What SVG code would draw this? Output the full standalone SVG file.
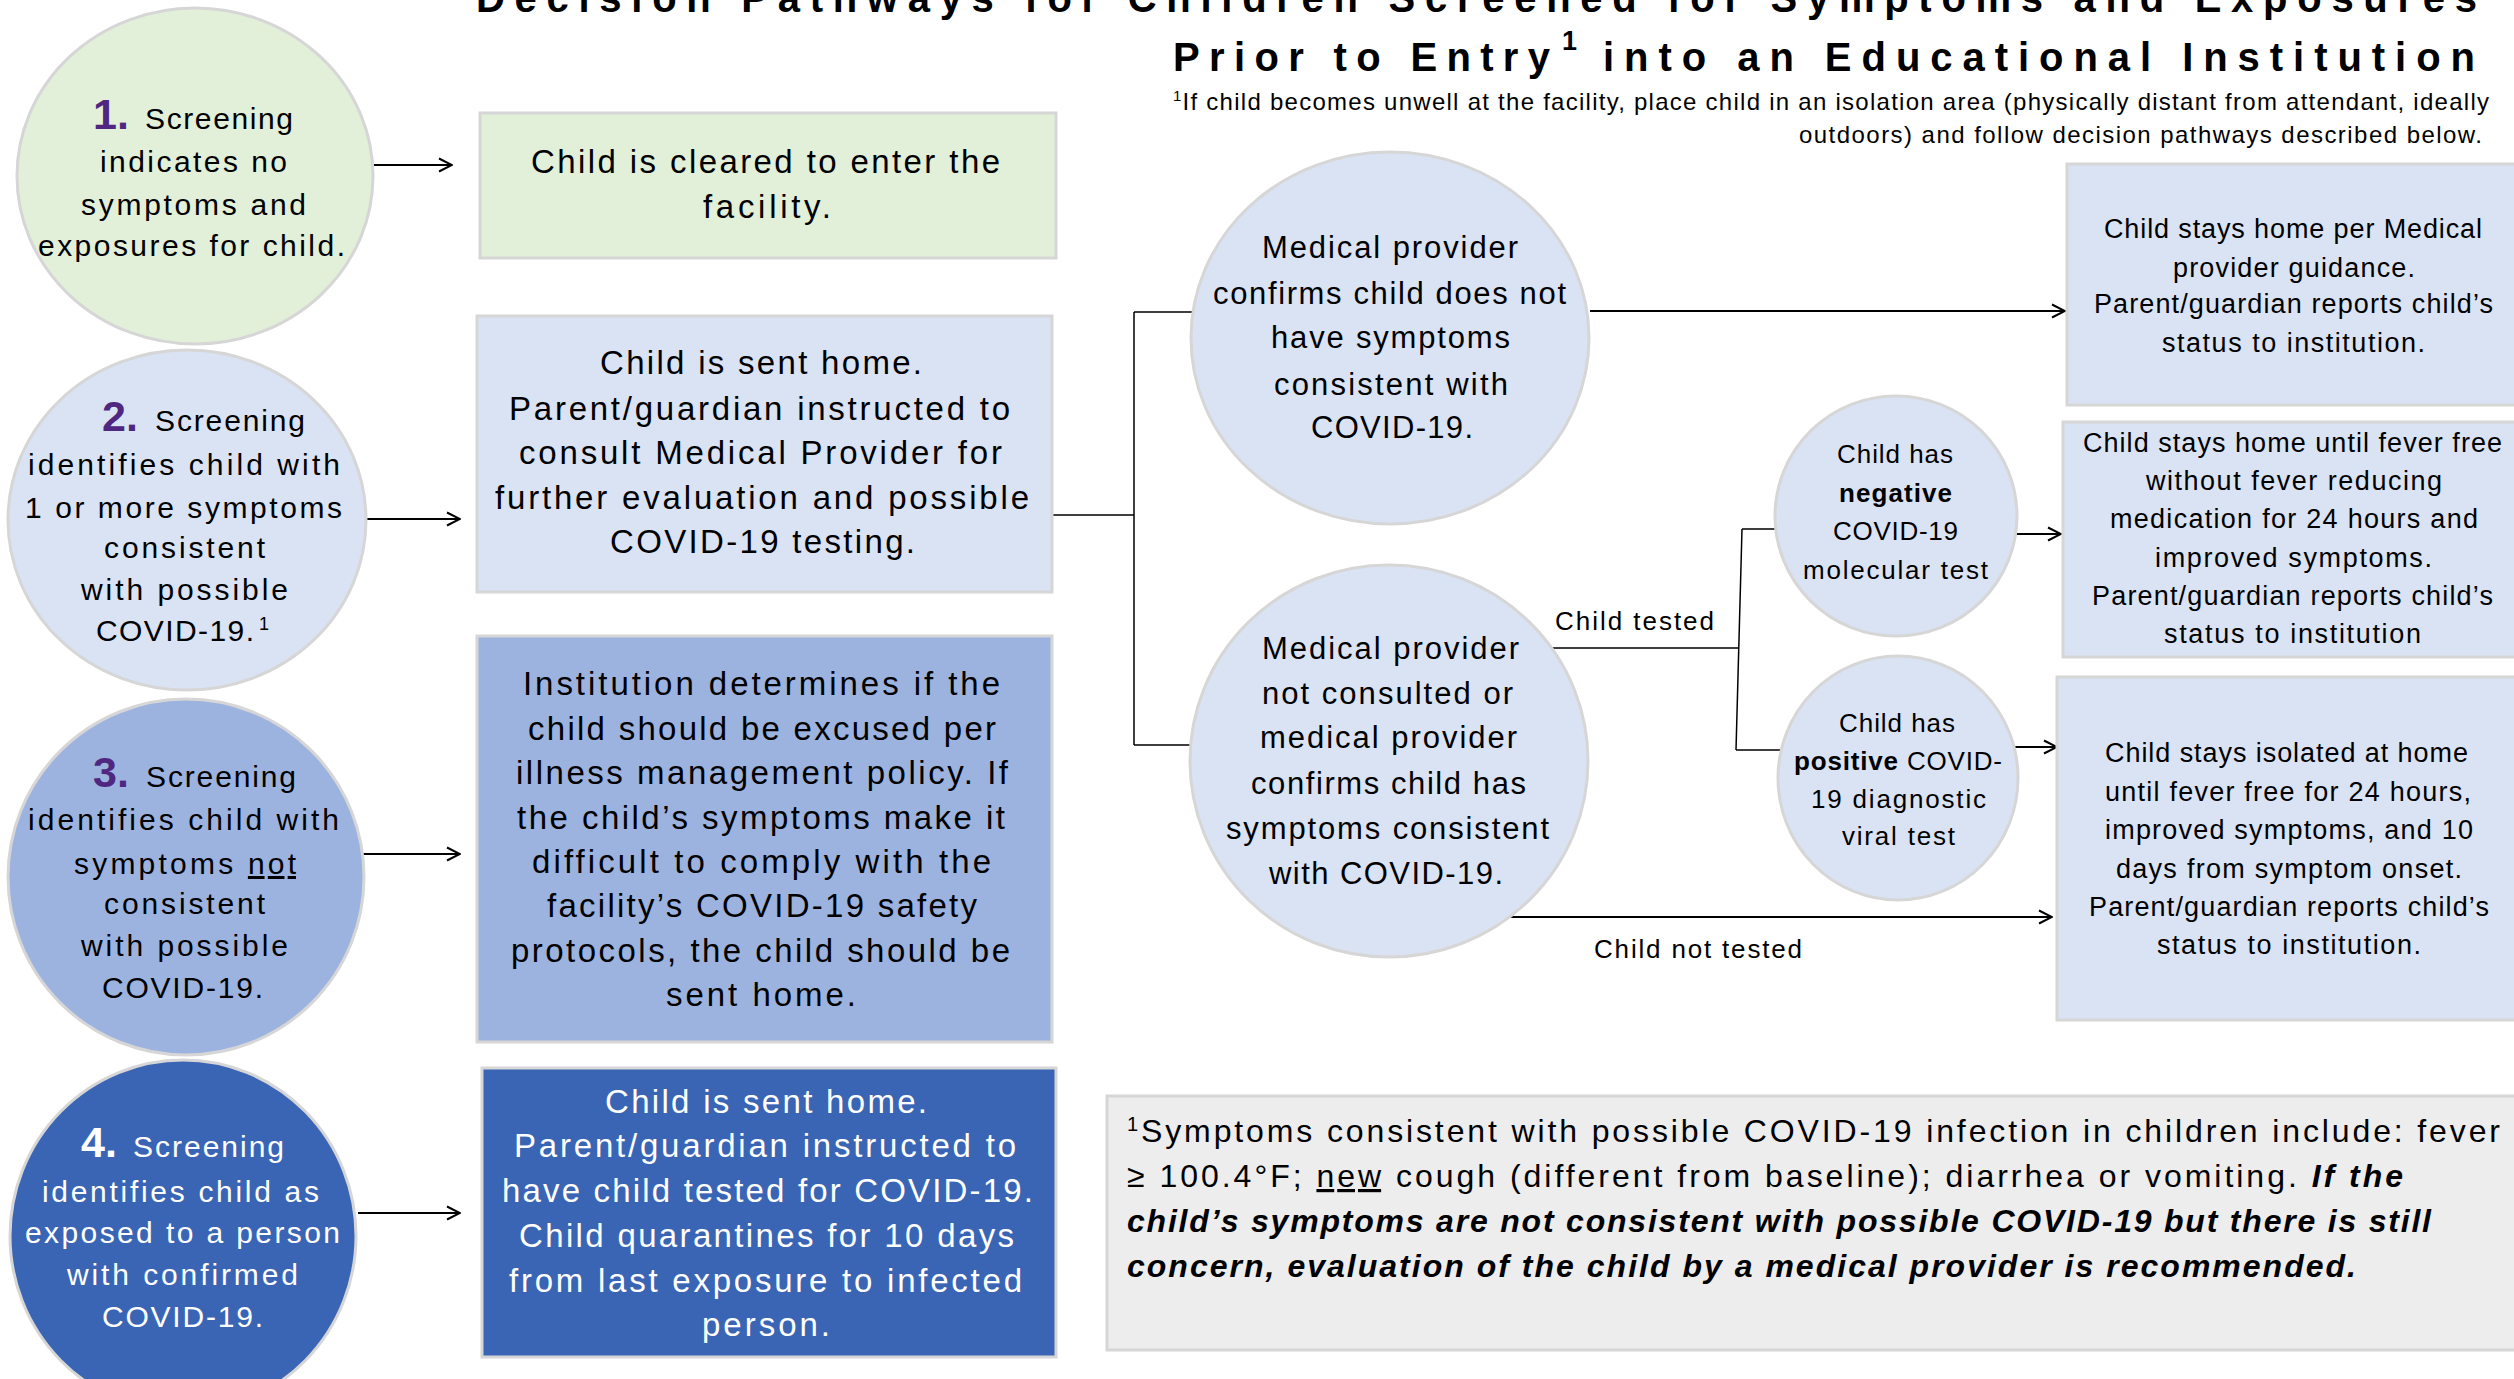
<svg xmlns="http://www.w3.org/2000/svg" width="2514" height="1379" viewBox="0 0 2514 1379">
<defs>
<style>
text{font-family:"Liberation Sans",Arial,sans-serif;fill:#000}
.lc{font-size:30px}
.num{font-size:43px;font-weight:bold;fill:#4f2780}
.bx{font-size:33px}
.mp{font-size:31px}
.sm{font-size:26px}
.rb{font-size:27px}
.fn{font-size:32px}
.ttl{font-size:40px;font-weight:bold}
.top{font-size:24px}
.wh{fill:#fff}
.b{font-weight:bold}
.bi{font-weight:bold;font-style:italic}
.u{text-decoration:underline}
.node{stroke:#d6d6d6;stroke-width:3}
.green{fill:#e2efd9}
.lblue{fill:#dae3f3}
.mblue{fill:#9db3df}
.dblue{fill:#3a65b5}
.grey{fill:#ededed}
.conn{stroke:#000;fill:none;stroke-width:1.5}
.arr{stroke:#000;fill:none;stroke-width:2;marker-end:url(#ah)}
</style>
<marker id="ah" viewBox="0 0 16 16" refX="15" refY="8" markerWidth="16" markerHeight="16" markerUnits="userSpaceOnUse" orient="auto">
<path d="M2,1.5 L15,8 L2,14.5" fill="none" stroke="#000" stroke-width="2"/>
</marker>
</defs>
<rect width="2514" height="1379" fill="#fff"/>

<g id="title">
<text class="ttl" x="476" y="12" textLength="2001">Decision Pathways for Children Screened for Symptoms and Exposures</text>
<text class="ttl" x="1173" y="71" textLength="377">Prior to Entry</text>
<text class="b" x="1562" y="50" font-size="27">1</text>
<text class="ttl" x="1603" y="71" textLength="872">into an Educational Institution</text>
<text class="top" x="1173" y="110" textLength="1316"><tspan font-size="15" dy="-9">1</tspan><tspan dy="9">If child becomes unwell at the facility, place child in an isolation area (physically distant from attendant, ideally</tspan></text>
<text class="top" x="1799" y="143" textLength="683">outdoors) and follow decision pathways described below.</text>
</g>

<g id="connectors">
<line class="arr" x1="374" y1="165" x2="452" y2="165"/>
<line class="arr" x1="361" y1="519" x2="460" y2="519"/>
<line class="arr" x1="361" y1="854" x2="460" y2="854"/>
<line class="arr" x1="358" y1="1213" x2="460" y2="1213"/>
<path class="conn" d="M1052,515 H1134 M1134,312 V745 M1134,312 H1194 M1134,745 H1192"/>
<line class="arr" x1="1590" y1="311" x2="2065" y2="311"/>
<path class="conn" d="M1552,648 H1738 M1742,529 L1736,750 M1742,529 H1776 M1736,750 H1782"/>
<line class="arr" x1="2016" y1="534" x2="2061" y2="534" stroke-width="2.5"/>
<line class="arr" x1="2014" y1="747" x2="2057" y2="747" stroke-width="2.5"/>
<line class="arr" x1="1506" y1="917" x2="2052" y2="917"/>
<text class="sm" x="1555" y="630" textLength="159">Child tested</text>
<text class="sm" x="1594" y="958" textLength="208">Child not tested</text>
</g>

<g id="screen1">
<ellipse class="node green" cx="195" cy="176" rx="178" ry="168"/>
<text class="num" x="93" y="129">1.</text>
<text class="lc" x="145" y="129" textLength="148">Screening</text>
<text class="lc" x="100" y="172" textLength="187">indicates no</text>
<text class="lc" x="81" y="215" textLength="225">symptoms and</text>
<text class="lc" x="38" y="256" textLength="307">exposures for child.</text>
</g>

<g id="screen2">
<ellipse class="node lblue" cx="187" cy="520" rx="179" ry="170"/>
<text class="num" x="102" y="431">2.</text>
<text class="lc" x="155" y="431" textLength="150">Screening</text>
<text class="lc" x="28" y="475" textLength="312">identifies child with</text>
<text class="lc" x="25" y="518" textLength="317">1 or more symptoms</text>
<text class="lc" x="104" y="558" textLength="161">consistent</text>
<text class="lc" x="81" y="600" textLength="207">with possible</text>
<text class="lc" x="96" y="641" textLength="158">COVID-19.</text>
<text x="259" y="630" font-size="18">1</text>
</g>

<g id="screen3">
<ellipse class="node mblue" cx="186" cy="877" rx="178" ry="178"/>
<text class="num" x="93" y="787">3.</text>
<text class="lc" x="146" y="787" textLength="150">Screening</text>
<text class="lc" x="28" y="830" textLength="311">identifies child with</text>
<text class="lc" x="74" y="874" textLength="222">symptoms <tspan class="u">not</tspan></text>
<text class="lc" x="104" y="914" textLength="161">consistent</text>
<text class="lc" x="81" y="956" textLength="207">with possible</text>
<text class="lc" x="102" y="998" textLength="161">COVID-19.</text>
</g>

<g id="screen4">
<ellipse class="node dblue" cx="183" cy="1236" rx="173" ry="176"/>
<text class="num wh" x="81" y="1157">4.</text>
<text class="lc wh" x="133" y="1157" textLength="151">Screening</text>
<text class="lc wh" x="42" y="1202" textLength="277">identifies child as</text>
<text class="lc wh" x="25" y="1243" textLength="315">exposed to a person</text>
<text class="lc wh" x="67" y="1285" textLength="231">with confirmed</text>
<text class="lc wh" x="102" y="1327" textLength="161">COVID-19.</text>
</g>

<g id="cleared">
<rect class="node green" x="480" y="113" width="576" height="145"/>
<text class="bx" x="531" y="173" textLength="469">Child is cleared to enter the</text>
<text class="bx" x="703" y="218" textLength="128">facility.</text>
</g>

<g id="consult">
<rect class="node lblue" x="477" y="316" width="575" height="276"/>
<text class="bx" x="600" y="374" textLength="322">Child is sent home.</text>
<text class="bx" x="509" y="420" textLength="501">Parent/guardian instructed to</text>
<text class="bx" x="519" y="464" textLength="483">consult Medical Provider for</text>
<text class="bx" x="495" y="509" textLength="534">further evaluation and possible</text>
<text class="bx" x="610" y="553" textLength="305">COVID-19 testing.</text>
</g>

<g id="institution">
<rect class="node mblue" x="477" y="636" width="575" height="406"/>
<text class="bx" x="523" y="695" textLength="477">Institution determines if the</text>
<text class="bx" x="528" y="740" textLength="468">child should be excused per</text>
<text class="bx" x="516" y="784" textLength="492">illness management policy. If</text>
<text class="bx" x="517" y="829" textLength="488">the child’s symptoms make it</text>
<text class="bx" x="532" y="873" textLength="459">difficult to comply with the</text>
<text class="bx" x="547" y="917" textLength="430">facility’s COVID-19 safety</text>
<text class="bx" x="511" y="962" textLength="499">protocols, the child should be</text>
<text class="bx" x="666" y="1006" textLength="190">sent home.</text>
</g>

<g id="quarantine">
<rect class="node dblue" x="482" y="1068" width="574" height="289"/>
<text class="bx wh" x="605" y="1113" textLength="322">Child is sent home.</text>
<text class="bx wh" x="514" y="1157" textLength="502">Parent/guardian instructed to</text>
<text class="bx wh" x="502" y="1202" textLength="531">have child tested for COVID-19.</text>
<text class="bx wh" x="519" y="1247" textLength="495">Child quarantines for 10 days</text>
<text class="bx wh" x="509" y="1292" textLength="513">from last exposure to infected</text>
<text class="bx wh" x="702" y="1336" textLength="128">person.</text>
</g>

<g id="no-symptoms">
<ellipse class="node lblue" cx="1390" cy="338" rx="199" ry="186"/>
<text class="mp" x="1262" y="258" textLength="256">Medical provider</text>
<text class="mp" x="1213" y="304" textLength="353">confirms child does not</text>
<text class="mp" x="1271" y="348" textLength="239">have symptoms</text>
<text class="mp" x="1274" y="395" textLength="234">consistent with</text>
<text class="mp" x="1311" y="438" textLength="162">COVID-19.</text>
</g>

<g id="has-symptoms">
<ellipse class="node lblue" cx="1389" cy="761" rx="199" ry="196"/>
<text class="mp" x="1262" y="659" textLength="257">Medical provider</text>
<text class="mp" x="1262" y="704" textLength="251">not consulted or</text>
<text class="mp" x="1260" y="748" textLength="257">medical provider</text>
<text class="mp" x="1251" y="794" textLength="275">confirms child has</text>
<text class="mp" x="1226" y="839" textLength="323">symptoms consistent</text>
<text class="mp" x="1269" y="884" textLength="234">with COVID-19.</text>
</g>

<g id="negative">
<ellipse class="node lblue" cx="1896" cy="516" rx="121" ry="120"/>
<text class="sm" x="1837" y="463" textLength="116">Child has</text>
<text class="sm b" x="1839" y="502" textLength="113">negative</text>
<text class="sm" x="1833" y="540" textLength="125">COVID-19</text>
<text class="sm" x="1803" y="579" textLength="185">molecular test</text>
</g>

<g id="positive">
<ellipse class="node lblue" cx="1898" cy="778" rx="120" ry="122"/>
<text class="sm" x="1839" y="732" textLength="116">Child has</text>
<text class="sm" x="1794" y="770" textLength="208"><tspan class="b">positive</tspan> COVID-</text>
<text class="sm" x="1811" y="808" textLength="175">19 diagnostic</text>
<text class="sm" x="1842" y="845" textLength="113">viral test</text>
</g>

<g id="stay-home">
<rect class="node lblue" x="2067" y="164" width="470" height="241"/>
<text class="rb" x="2104" y="238" textLength="378">Child stays home per Medical</text>
<text class="rb" x="2173" y="277" textLength="242">provider guidance.</text>
<text class="rb" x="2094" y="313" textLength="399">Parent/guardian reports child’s</text>
<text class="rb" x="2162" y="352" textLength="263">status to institution.</text>
</g>

<g id="fever-free">
<rect class="node lblue" x="2063" y="422" width="470" height="235"/>
<text class="rb" x="2083" y="452" textLength="419">Child stays home until fever free</text>
<text class="rb" x="2146" y="490" textLength="296">without fever reducing</text>
<text class="rb" x="2110" y="528" textLength="368">medication for 24 hours and</text>
<text class="rb" x="2155" y="567" textLength="277">improved symptoms.</text>
<text class="rb" x="2092" y="605" textLength="401">Parent/guardian reports child’s</text>
<text class="rb" x="2164" y="643" textLength="257">status to institution</text>
</g>

<g id="isolated">
<rect class="node lblue" x="2057" y="677" width="480" height="343"/>
<text class="rb" x="2105" y="762" textLength="363">Child stays isolated at home</text>
<text class="rb" x="2105" y="801" textLength="366">until fever free for 24 hours,</text>
<text class="rb" x="2105" y="839" textLength="368">improved symptoms, and 10</text>
<text class="rb" x="2116" y="878" textLength="346">days from symptom onset.</text>
<text class="rb" x="2089" y="916" textLength="400">Parent/guardian reports child’s</text>
<text class="rb" x="2157" y="954" textLength="264">status to institution.</text>
</g>

<g id="symptom-note">
<rect class="node grey" x="1107" y="1096" width="1430" height="254"/>
<text class="fn" x="1127" y="1142" textLength="1373"><tspan font-size="20" dy="-11">1</tspan><tspan dy="11">Symptoms consistent with possible COVID-19 infection in children include: fever</tspan></text>
<text class="fn" x="1127" y="1187" textLength="1276">≥ 100.4°F; <tspan class="u">new</tspan> cough (different from baseline); diarrhea or vomiting. <tspan class="bi">If the</tspan></text>
<text class="fn bi" x="1127" y="1232" textLength="1304">child’s symptoms are not consistent with possible COVID-19 but there is still</text>
<text class="fn bi" x="1127" y="1277" textLength="1229">concern, evaluation of the child by a medical provider is recommended.</text>
</g>
</svg>
